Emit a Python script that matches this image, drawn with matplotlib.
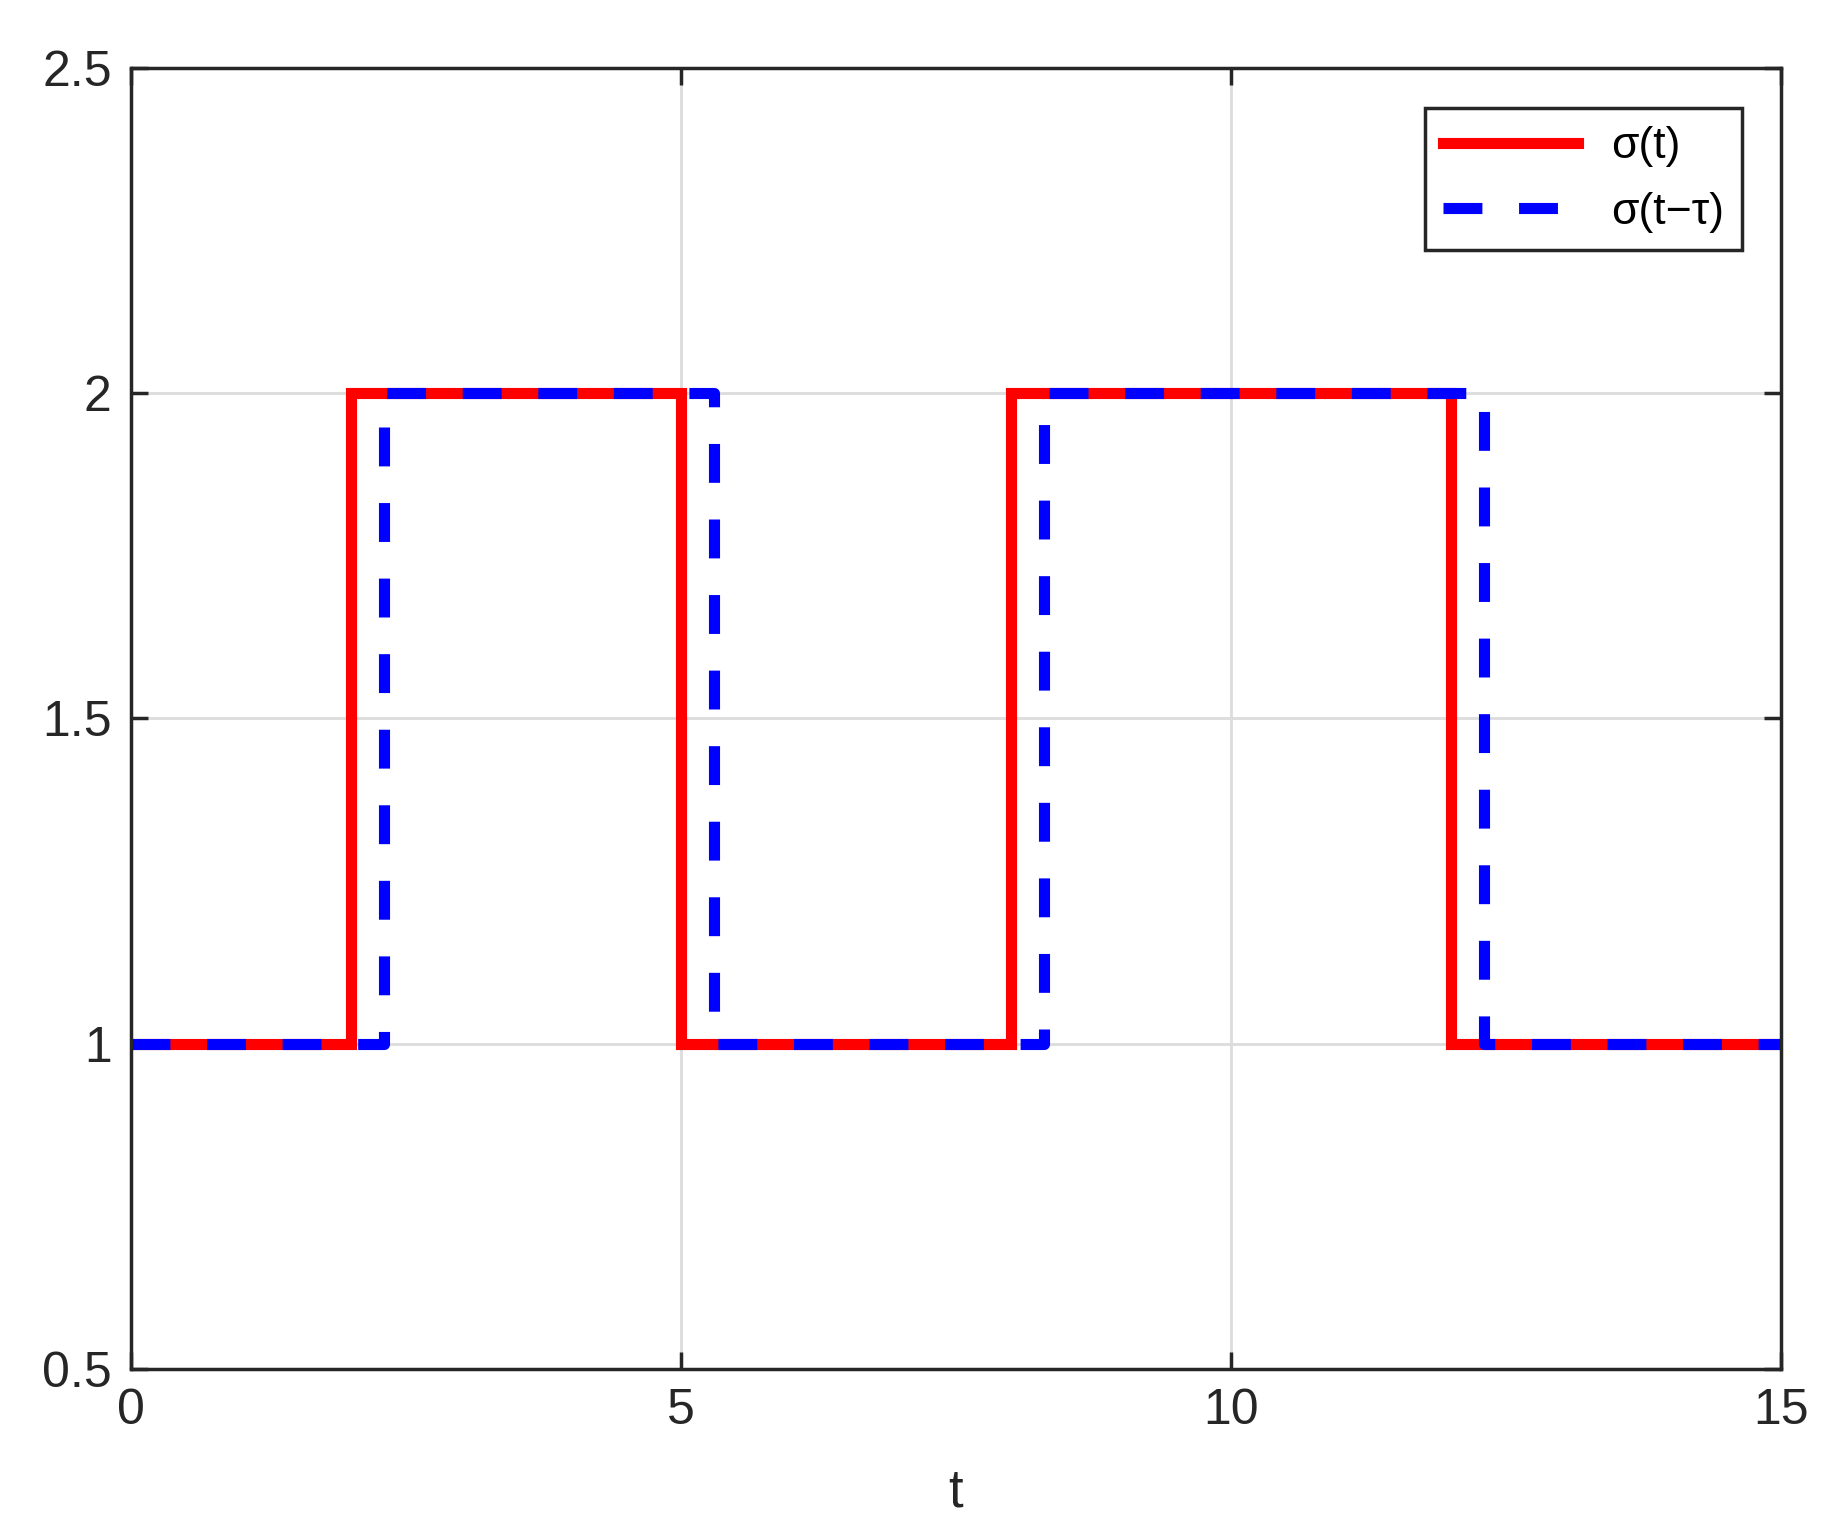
import matplotlib
matplotlib.use("Agg")
import matplotlib.pyplot as plt
import numpy as np

# switching instants and mode values of sigma(t)
t_switch = [0, 2, 5, 8, 12, 15]
sigma_vals = [1, 2, 1, 2, 1, 1]
tau = 0.3

# delayed signal sigma(t - tau)
t_delay = [0] + [t + tau for t in t_switch[1:-1]] + [15]
sigma_delay = sigma_vals

plt.rcParams['font.family'] = ['Liberation Sans', 'DejaVu Sans']

fig = plt.figure(figsize=(18.41, 15.38), dpi=100)
ax = fig.add_axes([0.0712, 0.1099, 0.8962, 0.8459])

ax.plot(t_switch, sigma_vals, drawstyle='steps-post', color='#ff0000',
        linewidth=8, label='σ(t)', solid_joinstyle='miter')
ax.plot(t_delay, sigma_delay, drawstyle='steps-post', color='#0000ff',
        linewidth=8, dashes=(3.5, 3.3), label='σ(t−τ)')

ax.set_xlim(0, 15)
ax.set_ylim(0.5, 2.5)
ax.set_xticks([0, 5, 10, 15])
ax.set_yticks([0.5, 1, 1.5, 2, 2.5])
ax.set_yticklabels(['0.5', '1', '1.5', '2', '2.5'])
ax.grid(True, color='#dcdcdc', linewidth=2)
ax.set_axisbelow(True)

for s in ax.spines.values():
    s.set_linewidth(2.5)
    s.set_color('#262626')
ax.tick_params(direction='in', length=12, width=2.5, colors='#262626',
               labelsize=36, top=True, right=True, pad=14)
ax.set_xlabel('t', fontsize=38, color='#262626', labelpad=24)

leg = ax.legend(loc='upper right', bbox_to_anchor=(0.9765, 0.969), fontsize=32,
                fancybox=False, edgecolor='#262626', framealpha=1,
                handlelength=3.05, borderpad=0.4, labelspacing=0.55,
                handletextpad=0.75, borderaxespad=0)
leg.get_frame().set_linewidth(2.5)

fig.savefig('out.png', dpi=100)
